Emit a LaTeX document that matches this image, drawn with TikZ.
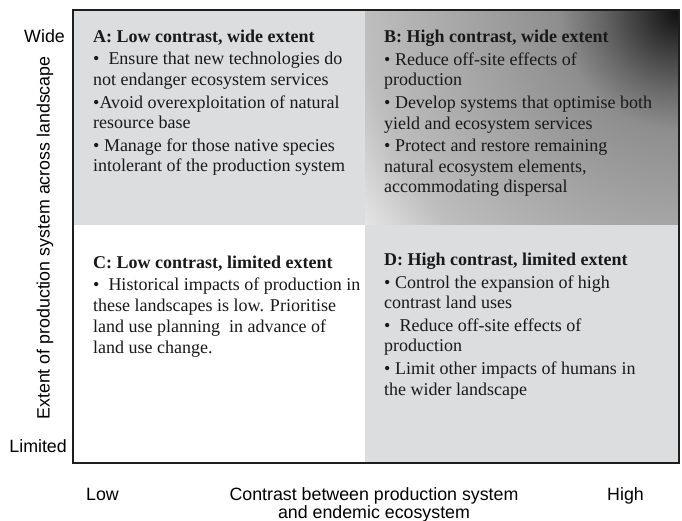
\documentclass[tikz,border=0pt]{standalone}
\usepackage{fontspec}
\setmainfont{Liberation Serif}
\newfontfamily\axisfont{Liberation Sans}
\definecolor{quadgray}{HTML}{DCDDDF}
\definecolor{framecol}{HTML}{1E1E1E}
\definecolor{shA}{HTML}{0E0E0E}
\definecolor{shB}{HTML}{3C3C3C}
\definecolor{shC}{HTML}{686868}
\definecolor{shD}{HTML}{8E8E8E}
\definecolor{shE}{HTML}{A6A6A6}
\definecolor{shF}{HTML}{BEBEBE}
\definecolor{shG}{HTML}{E6E6E6}
\pgfdeclareradialshading{cornershade}{\pgfpoint{0bp}{0bp}}{%
  color(0bp)=(shA); color(40bp)=(shB); color(80bp)=(shC); color(120bp)=(shD);
  color(215bp)=(shE); color(314bp)=(shF); color(380bp)=(shG); color(400bp)=(shG)}
\tikzset{
  qtext/.style={font=\fontsize{18}{20.8}\selectfont, align=left, inner sep=0pt, text=black!90},
  axlabel/.style={font=\axisfont\fontsize{17.8}{18.5}\selectfont, inner sep=0pt, text=black},
  frameline/.style={draw=framecol, line width=2.2pt},
}
\begin{document}
\begin{tikzpicture}[x=1pt,y=-1pt]
\useasboundingbox (0,0) rectangle (682,521);
\fill[white] (0,0) rectangle (682,521);
% quadrants
\fill[quadgray] (73,10) rectangle (365,225);
\begin{scope}
  \clip (365,10) rectangle (679,225);
  \node[inner sep=0pt, outer sep=0pt] (shadeB) at (679,10) {\pgfuseshading{cornershade}};
\end{scope}
\fill[quadgray] (365,225) rectangle (679,463);
\draw[frameline] (73,10) rectangle (679,463);
% quadrant texts (anchored at the baseline of the last line)
\node[qtext, anchor=base west] (A) at (93,172) {\textbf{A: Low contrast, wide extent}\\[1.5pt]
•\ \ Ensure that new technologies do\\
not endanger ecosystem services\\[1.5pt]
•Avoid overexploitation of natural\\
resource base\\[1.5pt]
• Manage for those native species\\
intolerant of the production system};
\node[qtext, anchor=base west] (B) at (384,193) {\textbf{B: High contrast, wide extent}\\[1.5pt]
• Reduce off-site effects of\\
production\\[1.5pt]
• Develop systems that optimise both\\
yield and ecosystem services\\[1.5pt]
• Protect and restore remaining\\
natural ecosystem elements,\\
accommodating dispersal};
\node[qtext, anchor=base west] (C) at (93,353) {\textbf{C: Low contrast, limited extent}\\[1.5pt]
•\ \ Historical impacts of production in\\
these landscapes is low. Prioritise\\
land use planning\ \ in advance of\\
land use change.};
\node[qtext, anchor=base west] (D) at (384,395) {\textbf{D: High contrast, limited extent}\\[1.5pt]
• Control the expansion of high\\
contrast land uses\\[1.5pt]
•\ \ Reduce off-site effects of\\
production\\[1.5pt]
• Limit other impacts of humans in\\
the wider landscape};
% axis labels
\node[axlabel, anchor=base east] (wide) at (65,43) {Wide};
\node[axlabel, anchor=base east] (limited) at (67,452) {Limited};
\node[axlabel, rotate=90] (ylab) at (45,238) {Extent of production system across landscape};
\node[axlabel, anchor=base west] (low) at (86,500) {Low};
\node[axlabel, anchor=base west] (high) at (607,500) {High};
\node[axlabel, align=center, anchor=base] (xlab) at (374,518.5) {Contrast between production system\\and endemic ecosystem};
\end{tikzpicture}
\end{document}
